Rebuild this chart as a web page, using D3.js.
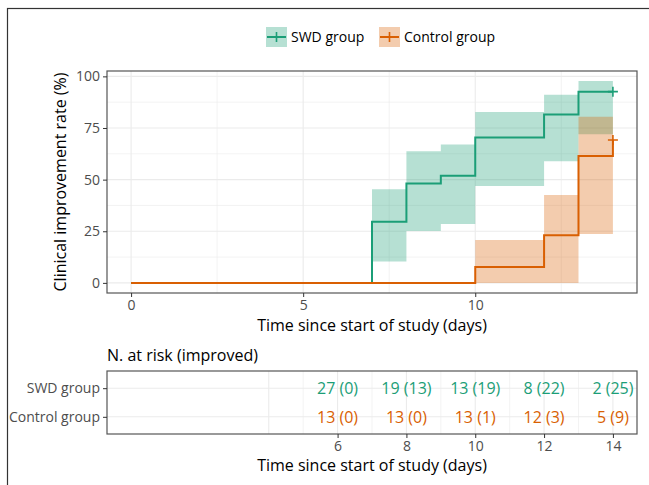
<!DOCTYPE html>
<html>
<head>
<meta charset="utf-8">
<script src="https://cdn.jsdelivr.net/npm/d3@7"></script>
<style>
  body { margin: 0; background: #fff; }
  svg { font-family: "Open Sans", sans-serif; }
  .grid line { stroke: #ebebeb; }
  .axis text { fill: #4d4d4d; }
  .axis line { stroke: #333; }
</style>
</head>
<body>
<div class="chart"></div>
<script>
var svgWidth = 649;
var svgHeight = 485;

// KM estimates (%)
var swdTimes = [0, 7, 8, 9, 10, 12, 13, 14];
var swdRate = [0, 29.6, 48.1, 51.9, 70.4, 81.5, 92.6, 92.6];
var swdLower = [0, 10.3, 25.1, 28.5, 46.9, 58.9, 72.0, 72.0];
var swdUpper = [0, 45.4, 63.8, 67.0, 82.8, 91.1, 97.7, 97.7];

var ctrlTimes = [0, 10, 12, 13, 14];
var ctrlRate = [0, 7.7, 23.1, 61.5, 69.2];
var ctrlLower = [0, 0, 0, 23.7, 23.7];
var ctrlUpper = [0, 20.8, 42.5, 80.4, 80.4];

// risk table
var groups = ["SWD group", "Control group"];
var riskTimes = [6, 8, 10, 12, 14];
var swdAtRisk = [27, 19, 13, 8, 2];
var swdImproved = [0, 13, 19, 22, 25];
var ctrlAtRisk = [13, 13, 13, 12, 5];
var ctrlImproved = [0, 0, 1, 3, 9];

var xTicks = [0, 5, 10];
var yTicks = [0, 25, 50, 75, 100];
var riskTicks = [6, 8, 10, 12, 14];

var colors = ["#1b9e77", "#d95f02"];

var svg = d3.select(".chart")
  .append("svg")
  .attr("width", svgWidth)
  .attr("height", svgHeight);

// outer frame
svg.append("rect")
  .attr("x", 7.5).attr("y", 8.5)
  .attr("width", 700).attr("height", 600)
  .attr("fill", "none").attr("stroke", "#333").attr("stroke-width", 1.2);

var panel = { left: 107, right: 637, top: 71, bottom: 293 };

var x = d3.scaleLinear().domain([-0.7, 14.7]).range([panel.left, panel.right]);
var y = d3.scaleLinear().domain([-4.9, 102.6]).range([panel.bottom, panel.top]);

var plot = svg.append("g");

// grid
var grid = plot.append("g").attr("class", "grid");
var xMinor = [2.5, 7.5, 12.5];
var yMinor = [12.5, 37.5, 62.5, 87.5];
grid.selectAll(".xmin").data(xMinor).enter().append("line")
  .attr("x1", d => x(d)).attr("x2", d => x(d))
  .attr("y1", panel.top).attr("y2", panel.bottom)
  .attr("stroke-width", 0.6);
grid.selectAll(".ymin").data(yMinor).enter().append("line")
  .attr("x1", panel.left).attr("x2", panel.right)
  .attr("y1", d => y(d)).attr("y2", d => y(d))
  .attr("stroke-width", 0.6);
grid.selectAll(".xmaj").data(xTicks).enter().append("line")
  .attr("x1", d => x(d)).attr("x2", d => x(d))
  .attr("y1", panel.top).attr("y2", panel.bottom)
  .attr("stroke-width", 1.1);
grid.selectAll(".ymaj").data(yTicks).enter().append("line")
  .attr("x1", panel.left).attr("x2", panel.right)
  .attr("y1", d => y(d)).attr("y2", d => y(d))
  .attr("stroke-width", 1.1);

function makeSeries(times, rate, lower, upper) {
  return times.map((t, i) => ({ t: t, r: rate[i], lo: lower[i], hi: upper[i] }));
}
var series = [
  makeSeries(swdTimes, swdRate, swdLower, swdUpper),
  makeSeries(ctrlTimes, ctrlRate, ctrlLower, ctrlUpper)
];

var band = d3.area()
  .curve(d3.curveStepAfter)
  .x(d => x(d.t))
  .y0(d => y(d.lo))
  .y1(d => y(d.hi));

var line = d3.line()
  .curve(d3.curveStepAfter)
  .x(d => x(d.t))
  .y(d => y(d.r));

series.forEach(function (s, i) {
  plot.append("path")
    .attr("d", band(s))
    .attr("fill", colors[i])
    .attr("fill-opacity", 0.32);
});

series.forEach(function (s, i) {
  plot.append("path")
    .attr("d", line(s))
    .attr("fill", "none")
    .attr("stroke", colors[i])
    .attr("stroke-width", 2);
  // censor mark at the end
  var last = s[s.length - 1];
  plot.append("path")
    .attr("d", `M${x(last.t) - 5},${y(last.r)}h10M${x(last.t)},${y(last.r) - 5}v10`)
    .attr("stroke", colors[i])
    .attr("stroke-width", 1.6);
});

// panel border
plot.append("rect")
  .attr("x", panel.left).attr("y", panel.top)
  .attr("width", panel.right - panel.left).attr("height", panel.bottom - panel.top)
  .attr("fill", "none").attr("stroke", "#555").attr("stroke-width", 1.2);

// axes
var bottomAxis = d3.axisBottom(x).tickValues(xTicks).tickSize(4).tickPadding(3);
var leftAxis = d3.axisLeft(y).tickValues(yTicks).tickSize(4).tickPadding(3);

plot.append("g")
  .attr("class", "axis")
  .attr("transform", `translate(0, ${panel.bottom})`)
  .call(bottomAxis)
  .call(g => g.select(".domain").remove())
  .selectAll("text").attr("font-size", "14px").attr("font-family", "Open Sans");

plot.append("g")
  .attr("class", "axis")
  .attr("transform", `translate(${panel.left}, 0)`)
  .call(leftAxis)
  .call(g => g.select(".domain").remove())
  .selectAll("text").attr("font-size", "14px").attr("font-family", "Open Sans");

svg.append("text")
  .attr("x", (panel.left + panel.right) / 2)
  .attr("y", 331)
  .attr("text-anchor", "middle")
  .attr("font-size", "16px")
  .text("Time since start of study (days)");

svg.append("text")
  .attr("transform", `translate(66, ${(panel.top + panel.bottom) / 2}) rotate(-90)`)
  .attr("text-anchor", "middle")
  .attr("font-size", "16px")
  .text("Clinical improvement rate (%)");

// legend
var legendItems = [
  { label: "SWD group", x: 266 },
  { label: "Control group", x: 379 }
];
legendItems.forEach(function (d, i) {
  var g = svg.append("g").attr("transform", `translate(${d.x}, 27)`);
  g.append("rect").attr("width", 21).attr("height", 20)
    .attr("fill", colors[i]).attr("fill-opacity", 0.32);
  g.append("path").attr("d", "M1,10h19").attr("stroke", colors[i]).attr("stroke-width", 2);
  g.append("path").attr("d", "M5.5,10h10M10.5,5v10").attr("stroke", colors[i]).attr("stroke-width", 1.6);
  g.append("text").attr("x", 25).attr("y", 15)
    .attr("font-size", "14px")
    .attr("textLength", null)
    .text(d.label);
});

// risk table
var table = { left: 107, right: 637, top: 371, bottom: 434 };

svg.append("text")
  .attr("x", table.left).attr("y", 361)
  .attr("font-size", "16px")
  .text("N. at risk (improved)");

var yRisk = d3.scalePoint().domain(groups).range([table.top, table.bottom]).padding(0.6);

var tgrid = svg.append("g").attr("class", "grid");
tgrid.selectAll(".tmaj").data([4, 6, 8, 10, 12, 14]).enter().append("line")
  .attr("x1", d => x(d)).attr("x2", d => x(d))
  .attr("y1", table.top).attr("y2", table.bottom)
  .attr("stroke-width", 1.1);
tgrid.selectAll(".tmin").data([5, 7, 9, 11, 13]).enter().append("line")
  .attr("x1", d => x(d)).attr("x2", d => x(d))
  .attr("y1", table.top).attr("y2", table.bottom)
  .attr("stroke-width", 0.6);
tgrid.selectAll(".trow").data(groups).enter().append("line")
  .attr("x1", table.left).attr("x2", table.right)
  .attr("y1", d => yRisk(d)).attr("y2", d => yRisk(d))
  .attr("stroke-width", 1.1);

var riskRows = [
  riskTimes.map((t, i) => ({ t: t, label: `${swdAtRisk[i]} (${swdImproved[i]})`, g: groups[0] })),
  riskTimes.map((t, i) => ({ t: t, label: `${ctrlAtRisk[i]} (${ctrlImproved[i]})`, g: groups[1] }))
];
riskRows.forEach(function (row, i) {
  svg.selectAll(".risk" + i).data(row).enter().append("text")
    .attr("x", d => x(d.t))
    .attr("y", d => yRisk(d.g))
    .attr("dy", "0.36em")
    .attr("text-anchor", "middle")
    .attr("font-size", "16px")
    .attr("fill", colors[i])
    .text(d => d.label);
});

svg.append("rect")
  .attr("x", table.left).attr("y", table.top)
  .attr("width", table.right - table.left).attr("height", table.bottom - table.top)
  .attr("fill", "none").attr("stroke", "#555").attr("stroke-width", 1.2);

svg.append("g")
  .attr("class", "axis")
  .attr("transform", `translate(${table.left}, 0)`)
  .call(d3.axisLeft(yRisk).tickSize(4).tickPadding(3))
  .call(g => g.select(".domain").remove())
  .selectAll("text").attr("font-size", "14px").attr("fill", "#222").attr("font-family", "Open Sans");

svg.append("g")
  .attr("class", "axis")
  .attr("transform", `translate(0, ${table.bottom})`)
  .call(d3.axisBottom(x).tickValues(riskTicks).tickSize(4).tickPadding(3))
  .call(g => g.select(".domain").remove())
  .selectAll("text").attr("font-size", "14px").attr("font-family", "Open Sans");

svg.append("text")
  .attr("x", (table.left + table.right) / 2)
  .attr("y", 471)
  .attr("text-anchor", "middle")
  .attr("font-size", "16px")
  .text("Time since start of study (days)");
</script>
</body>
</html>
